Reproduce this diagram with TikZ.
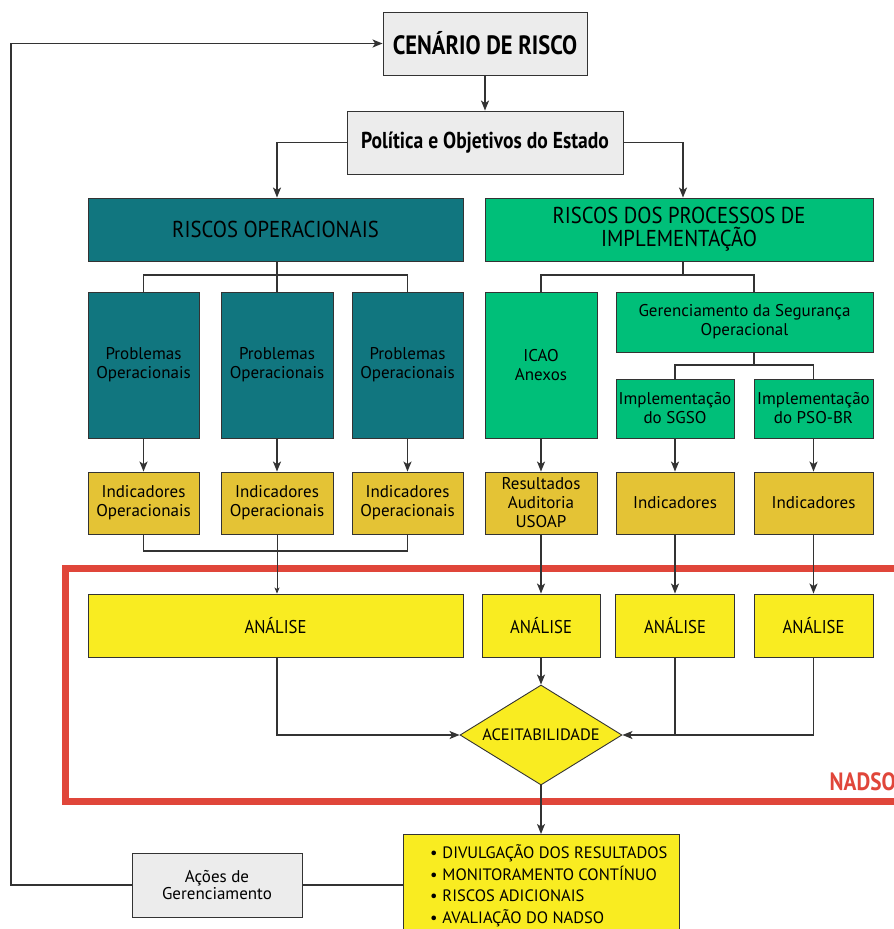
\documentclass[tikz,border=0pt]{standalone}
\usepackage{fontspec}
\setmainfont{PT Sans}
\newfontfamily\condfont[FakeStretch=0.9]{PT Sans}
\newfontfamily\heavyfont[FakeStretch=0.85]{PT Sans}
\usetikzlibrary{arrows.meta,positioning,shapes.geometric}
\definecolor{opteal}{HTML}{11767F}
\definecolor{impgreen}{HTML}{00BF79}
\definecolor{indgold}{HTML}{E4C335}
\definecolor{anayellow}{HTML}{F9EC21}
\definecolor{boxgray}{HTML}{ECECEC}
\definecolor{nadsored}{HTML}{E0463A}
\definecolor{linegray}{HTML}{333333}
\tikzset{x=1pt, y=-1pt, % one unit per pixel, y grows downwards
        box/.style={ % common look of all boxes
            draw=linegray, line width=0.9pt, inner sep=0pt, align=center,
            font=\fontsize{17}{19}\selectfont},
        grey box/.style={box, fill=boxgray},
        op box/.style={box, fill=opteal},
        imp box/.style={box, fill=impgreen},
        ind box/.style={box, fill=indgold, minimum height=62},
        ana box/.style={box, fill=anayellow, minimum height=63,
            font=\condfont\fontsize{18.5}{21}\selectfont},
        title/.style={font=\condfont\fontsize{23}{23}\selectfont, minimum height=63},
        link/.style={draw=linegray, line width=1.3pt}, % plain connector
        arrow/.style={link, -{Stealth[length=10pt, width=8pt, inset=2.5pt]}},
        thin arrow/.style={draw=linegray, line width=0.8pt,
            -{Stealth[length=6pt, width=5pt, inset=1.5pt]}}
        }

\begin{document}
\begin{tikzpicture}
    \clip (0,0) rectangle (894,929);

    % top of the chart
    \node[grey box, minimum width=204, minimum height=63,
        font=\heavyfont\bfseries\fontsize{26.5}{28}\selectfont] (cen) at (485,43.5) {CENÁRIO DE RISCO};
    \node[grey box, minimum width=276, minimum height=63,
        font=\heavyfont\bfseries\fontsize{23}{24}\selectfont] (pol) at (485,142.5) {Política e Objetivos do Estado};

    \node[op box, title, minimum width=375] (rop) at (275.5,229.5) {RISCOS OPERACIONAIS};
    \node[imp box, title, minimum width=388] (rdp) at (679,229.5) {RISCOS DOS PROCESSOS DE\\IMPLEMENTAÇÃO};

    % operational branch
    \foreach \i/\x/\w in {1/143.5/111, 2/277/112, 3/407.5/111} {
        \node[op box, minimum width=\w, minimum height=146] (prob\i) at (\x,365) {Problemas\\Operacionais};
        \node[ind box, minimum width=\w] (ind\i) at (\x,503) {Indicadores\\Operacionais};
    }

    % implementation branch
    \node[imp box, minimum width=112, minimum height=146] (icao) at (541,365) {ICAO\\Anexos};
    \node[imp box, minimum width=257, minimum height=60] (ger) at (744.5,322) {Gerenciamento da Segurança\\Operacional};
    \node[imp box, minimum width=118, minimum height=59] (sgso) at (675,408.5) {Implementação\\do SGSO};
    \node[imp box, minimum width=119, minimum height=59] (pso) at (813.5,408.5) {Implementação\\do PSO-BR};
    \node[ind box, minimum width=112] (usoap) at (541,503) {Resultados\\Auditoria\\USOAP};
    \node[ind box, minimum width=118] (isgso) at (675,503) {Indicadores};
    \node[ind box, minimum width=119] (ipso) at (813.5,503) {Indicadores};

    % NADSO frame
    \draw[nadsored, line width=7pt] (65.5,568.5) rectangle (920,801.5);
    \node[font=\heavyfont\bfseries\fontsize{25}{25}\selectfont, text=nadsored,
        anchor=base east, inner sep=0pt] (nadso) at (896,790) {NADSO};

    \node[ana box, minimum width=375] (ana1) at (275.5,625.5) {ANÁLISE};
    \node[ana box, minimum width=118] (ana2) at (541,625.5) {ANÁLISE};
    \node[ana box, minimum width=119] (ana3) at (675,625.5) {ANÁLISE};
    \node[ana box, minimum width=119] (ana4) at (813.5,625.5) {ANÁLISE};

    \node[diamond, aspect=1.6, draw=linegray, line width=0.9pt, fill=anayellow,
        minimum width=162, minimum height=100, inner sep=0pt,
        font=\fontsize{16.5}{19}\selectfont] (ace) at (541,735) {ACEITABILIDADE};

    % results and feedback
    \node[box, fill=anayellow, anchor=north, minimum width=276,
        font=\fontsize{16.5}{21.7}\selectfont] (res) at (541,834)
        {\parbox[c][120pt][t]{276pt}{\rule{0pt}{24pt}%
        \hspace*{27pt}\textbullet\hspace{5pt}DIVULGAÇÃO DOS RESULTADOS\\
        \hspace*{27pt}\textbullet\hspace{5pt}MONITORAMENTO CONTÍNUO\\
        \hspace*{27pt}\textbullet\hspace{5pt}RISCOS ADICIONAIS\\
        \hspace*{27pt}\textbullet\hspace{5pt}AVALIAÇÃO DO NADSO}};
    \node[grey box, minimum width=170, minimum height=64,
        font=\fontsize{17}{17.5}\selectfont] (acoes) at (217,885) {Ações de\\Gerenciamento};

    % junctions
    \coordinate (ltop) at (277,275);
    \coordinate (rtop) at (683,275);
    \coordinate (gtop) at (754,365);
    \coordinate (lbot) at (277,551);
    \coordinate (back) at (11,885);

    % connectors
    \draw[arrow] (cen) -- (pol);
    \draw[arrow] (pol.west) -| (rop.north -| ltop);
    \draw[arrow] (pol.east) -| (rdp.north -| rtop);

    \draw[link] (rop.south -| ltop) -- (ltop);
    \draw[link] (prob1.north) |- (ltop) -| (prob3.north);
    \draw[link] (ltop) -- (prob2.north);

    \draw[link] (rdp.south -| rtop) -- (rtop);
    \draw[link] (icao.north) |- (rtop) -| (ger.north -| gtop);
    \draw[link] (ger.south -| gtop) -- (gtop);
    \draw[link] (sgso.north) |- (gtop) -| (pso.north);

    \foreach \a/\b in {prob1/ind1, prob2/ind2, prob3/ind3, icao/usoap, sgso/isgso, pso/ipso,
                       usoap/ana2, isgso/ana3, ipso/ana4, ana2/ace, ace/res}
        \draw[arrow] (\a) -- (\b);

    \draw[link] (ind1.south) |- (lbot) -| (ind3.south);
    \draw[thin arrow] (ind2.south) -- (ind2.south |- ana1.north);

    \draw[arrow] (ana1.south -| ltop) |- (ace.west);
    \draw[arrow] (ana4.south) |- (ace.east);
    \draw[link] (ana3.south) -- (ana3.south |- ace.east);

    \draw[link] (res.west |- acoes.east) -- (acoes.east);
    \draw[arrow] (acoes.west) -- (back) |- (cen.west);
\end{tikzpicture}
\end{document}
